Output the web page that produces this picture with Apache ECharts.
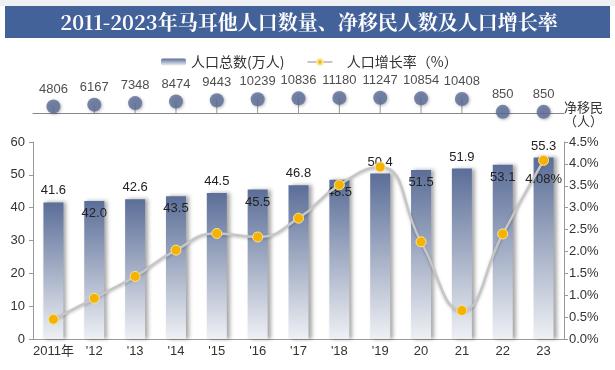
<!DOCTYPE html>
<html><head><meta charset="utf-8">
<script src="https://cdn.jsdelivr.net/npm/echarts@6/dist/echarts.min.js"></script>
<style>html,body{margin:0;padding:0;background:#fff}#c{width:615px;height:370px}</style>
</head><body><div id="c"></div>
<script>
var categories = ['2011年', "'12", "'13", "'14", "'15", "'16", "'17", "'18", "'19", '20', '21', '22', '23'];
var population = [41.6, 42.0, 42.6, 43.5, 44.5, 45.5, 46.8, 48.5, 50.4, 51.5, 51.9, 53.1, 55.3];
var growthRate = [0.45, 0.93, 1.43, 2.03, 2.41, 2.33, 2.76, 3.52, 3.93, 2.22, 0.65, 2.40, 4.08];
var netMigrants = [4806, 6167, 7348, 8474, 9443, 10239, 10836, 11180, 11247, 10854, 10408, 850, 850];
var leftTicks = [0, 60, 10];
var rightTicks = [0, 4.5, 0.5];

var chart = echarts.init(document.getElementById('c'));
var barGrad = new echarts.graphic.LinearGradient(0, 0, 0, 1, [
  {offset: 0, color: '#5b6e98'}, {offset: 1, color: '#eef0f4'}]);
var font = 'Arial, "Noto Sans CJK SC", sans-serif';
chart.setOption({
  backgroundColor: '#ffffff',
  animation: false,
  textStyle: {fontFamily: font},
  graphic: [
    {type: 'rect', shape: {x: 0, y: 0, width: 615, height: 6}, style: {fill: '#eef0f4'}},
    {type: 'rect', shape: {x: 5, y: 6, width: 605, height: 32}, style: {fill: '#43629a'}},
    {type: 'text', x: 309, y: 22, style: {text: '2011-2023年马耳他人口数量、净移民人数及人口增长率', fill: '#ffffff',
      font: 'bold 20px "Noto Serif CJK SC", "Noto Sans CJK SC", serif', align: 'center', verticalAlign: 'middle',
      shadowColor: 'rgba(0,0,0,0.5)', shadowBlur: 2, shadowOffsetX: 1, shadowOffsetY: 1}},
    {type: 'text', x: 564, y: 100, style: {text: '净移民\n（人）', fill: '#333', font: '13px "Noto Sans CJK SC", sans-serif', lineHeight: 14}}
  ],
  legend: {
    left: 156, top: 50, itemGap: 22, itemWidth: 25, itemHeight: 7,
    textStyle: {fontSize: 14, color: '#333', fontFamily: '"Noto Sans CJK SC", sans-serif'},
    formatter: function (n) { return n === '人口增长率（%）' ? '   ' + n : n; },
    data: ['人口总数(万人)', '人口增长率（%）']
  },
  grid: [
    {left: 33, right: 51, top: 142, bottom: 31},
    {left: 33, right: 51, top: 59, height: 54}
  ],
  xAxis: [
    {type: 'category', gridIndex: 0, data: categories,
      axisLine: {lineStyle: {color: '#999'}}, axisTick: {lineStyle: {color: '#999'}, length: 4, interval: 0},
      axisLabel: {color: '#333', fontSize: 13, margin: 6, interval: 0}},
    {type: 'category', gridIndex: 1, data: categories,
      axisLine: {lineStyle: {color: '#888'}}, axisTick: {show: false}, axisLabel: {show: false}}
  ],
  yAxis: [
    {type: 'value', gridIndex: 0, min: leftTicks[0], max: leftTicks[1], interval: leftTicks[2],
      axisLine: {show: true, lineStyle: {color: '#999'}}, axisTick: {show: true, length: 4, lineStyle: {color: '#999'}},
      splitLine: {show: false}, axisLabel: {color: '#333', fontSize: 13, margin: 8}},
    {type: 'value', gridIndex: 0, position: 'right', min: rightTicks[0], max: rightTicks[1], interval: rightTicks[2],
      axisLine: {show: true, lineStyle: {color: '#999'}}, axisTick: {show: true, length: 4, lineStyle: {color: '#999'}},
      splitLine: {show: false}, axisLabel: {color: '#333', fontSize: 13, margin: 5,
        formatter: function (v) { return v.toFixed(1) + '%'; }}},
    {type: 'value', gridIndex: 1, min: 0, max: 40000, show: false, splitLine: {show: false}}
  ],
  series: [
    {name: '人口总数(万人)', type: 'bar', xAxisIndex: 0, yAxisIndex: 0, barWidth: 20,
      itemStyle: {color: barGrad, shadowColor: 'rgba(0,0,0,0.35)', shadowBlur: 4, shadowOffsetX: 3},
      data: population.map(function (v, i) {
        return {value: v, label: {show: true, position: i % 2 === 0 ? 'top' : 'insideTop',
          distance: i % 2 === 0 ? 5 : 6, color: '#222', fontSize: 13, formatter: function (p) { return p.value.toFixed(1); }}};
      })},
    {name: '人口增长率（%）', type: 'line', xAxisIndex: 0, yAxisIndex: 1, smooth: true,
      symbol: 'circle', symbolSize: 10,
      lineStyle: {color: '#c6c6c6', width: 2.5, shadowColor: 'rgba(0,0,0,0.25)', shadowBlur: 3, shadowOffsetY: 1},
      itemStyle: {color: '#f5b301', borderColor: '#fde39a', borderWidth: 1},
      data: growthRate.map(function (v, i) {
        return i === growthRate.length - 1 ?
          {value: v, label: {show: true, position: 'bottom', distance: 7, color: '#222', fontSize: 13,
            formatter: function (p) { return p.value.toFixed(2) + '%'; }}} : v;
      })},
    {type: 'bar', xAxisIndex: 1, yAxisIndex: 2, barWidth: 1, silent: true,
      itemStyle: {color: '#9a9a9a'}, data: netMigrants},
    {type: 'scatter', xAxisIndex: 1, yAxisIndex: 2, symbol: 'circle', symbolSize: 14,
      itemStyle: {color: '#5a6d98', shadowColor: 'rgba(0,0,0,0.35)', shadowBlur: 3, shadowOffsetX: 1, shadowOffsetY: 1},
      label: {show: true, position: 'top', distance: 4, color: '#222', fontSize: 13},
      data: netMigrants}
  ]
});
</script></body></html>
